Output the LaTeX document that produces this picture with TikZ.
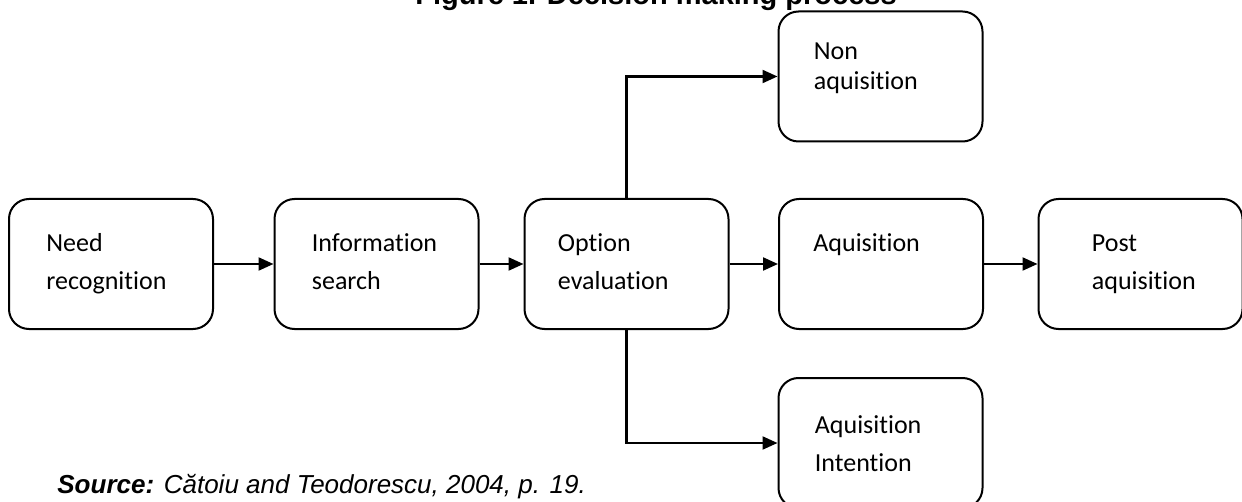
\documentclass[tikz,border=0pt]{standalone}
\usepackage{fontspec}
\setmainfont{Liberation Sans}
\newfontfamily\calibri[Ligatures=NoCommon]{Carlito}
\usetikzlibrary{arrows.meta,calc}

\begin{document}
\begin{tikzpicture}[x=0.5pt, y=-0.5pt, >={Triangle[length=7.5pt,width=6.5pt]},
    stage/.style={draw, line width=1pt, rounded corners=10pt, minimum width=102pt, minimum height=65pt, inner sep=0pt},
    txt/.style={anchor=base west, inner sep=0pt, font=\fontsize{13}{19}\selectfont\calibri},
    flow/.style={->, line width=1.1pt}]
  \useasboundingbox (0,0) rectangle (1242,502);
  \fill[white] (0,0) rectangle (1242,502);
  % title, cut off by the top edge
  \node[anchor=base, inner sep=0pt, font=\fontsize{14.5}{17}\selectfont\bfseries] (title) at (656,5) {Figure 1. Decision making process};
  % stages
  \node[stage] (need) at (111,264) {};
  \node[stage] (info) at (376.5,264) {};
  \node[stage] (opt) at (626.5,264) {};
  \node[stage] (acq) at (881,264) {};
  \node[stage] (post) at (1140.5,264) {};
  \node[stage] (non) at (880.5,76.5) {};
  \node[stage] (intent) at (880.5,443) {};
  \node[txt] (needt) at ($(need.north west)+(38,54)$) {\parbox[t]{90pt}{Need\\recognition}};
  \node[txt] (infot) at ($(info.north west)+(38,54)$) {\parbox[t]{90pt}{Information\\search}};
  \node[txt] (optt) at ($(opt.north west)+(34,54)$) {\parbox[t]{90pt}{Option\\evaluation}};
  \node[txt] (acqt) at ($(acq.north west)+(35,54)$) {Aquisition};
  \node[txt] (postt) at ($(post.north west)+(54,54)$) {\parbox[t]{90pt}{Post\\aquisition}};
  \node[txt, font=\fontsize{13}{15}\selectfont\calibri] (nont) at ($(non.north west)+(36,49)$) {\parbox[t]{90pt}{Non\\aquisition}};
  \node[txt] (intentt) at ($(intent.north west)+(37,56)$) {\parbox[t]{90pt}{Aquisition\\Intention}};
  % connectors
  \draw[flow] (need) -- (info);
  \draw[flow] (info) -- (opt);
  \draw[flow] (opt) -- (acq);
  \draw[flow] (acq) -- (post);
  \draw[flow] (opt.north) |- (non);
  \draw[flow] (opt.south) |- (intent);
  % source
  \node[anchor=base west, inner sep=0pt, font=\fontsize{13}{15}\selectfont\itshape] (src) at (57,493) {\textbf{Source:} Cătoiu and Teodorescu, 2004, p. 19.};
\end{tikzpicture}
\end{document}
